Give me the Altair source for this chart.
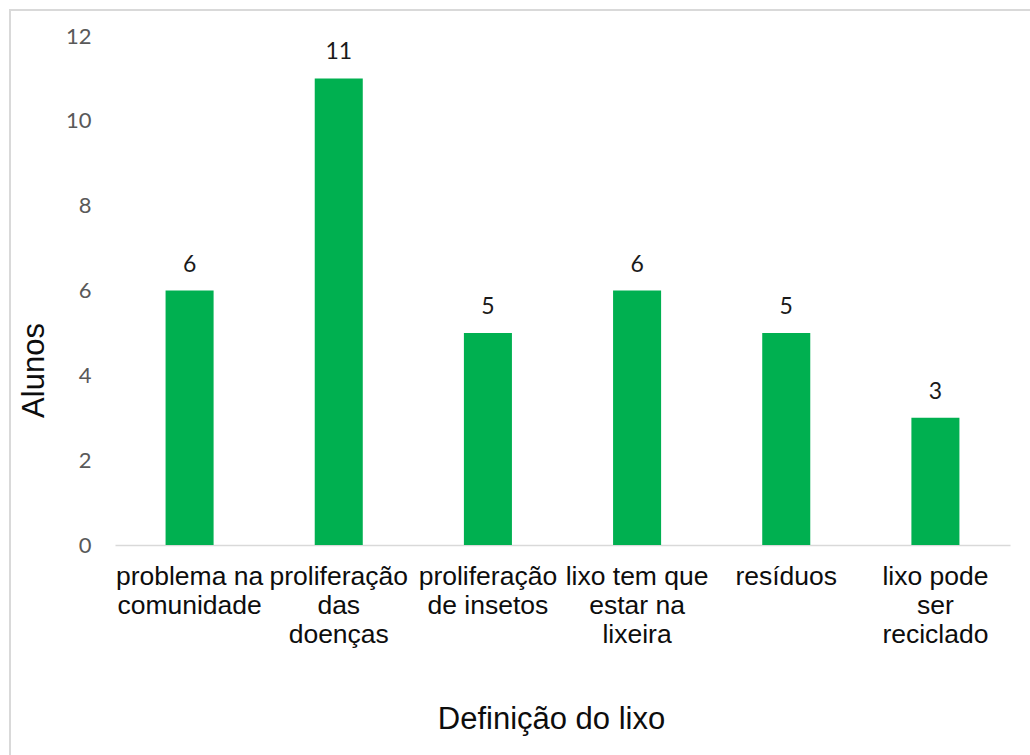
import altair as alt
import pandas as pd

# Answers given by students (categories wrap onto lines at "|")
categories = [
    "problema na|comunidade",
    "proliferação|das|doenças",
    "proliferação|de insetos",
    "lixo tem que|estar na|lixeira",
    "resíduos",
    "lixo pode|ser|reciclado",
]
alunos = [6, 11, 5, 6, 5, 3]
y_ticks = [0, 2, 4, 6, 8, 10, 12]

df = pd.DataFrame({"categoria": categories, "alunos": alunos})

GREEN = "#00B050"
TICK_FONT = "Lato"
LABEL_FONT = "Liberation Sans"

x_enc = alt.X(
    "categoria:N",
    sort=categories,
    scale=alt.Scale(paddingInner=0.678, paddingOuter=0.339),
    axis=alt.Axis(
        title="Definição do lixo",
        labelAngle=0,
        labelExpr="split(datum.label, '|')",
        labelFont=LABEL_FONT,
        labelFontSize=26.5,
        labelColor="#0d0d0d",
        labelLineHeight=29,
        labelPadding=18,
        labelLimit=200,
        ticks=False,
        domain=True,
        domainColor="#d9d9d9",
        domainWidth=1.5,
        grid=False,
        titleFont=LABEL_FONT,
        titleFontSize=31,
        titleFontWeight="normal",
        titleColor="#0d0d0d",
        titleX=436,
        titleY=183,
        titleAlign="center",
        titleBaseline="alphabetic",
    ),
)

y_enc = alt.Y(
    "alunos:Q",
    scale=alt.Scale(domain=[0, 12], nice=False),
    axis=alt.Axis(
        title="Alunos",
        values=y_ticks,
        grid=False,
        domain=False,
        ticks=False,
        labelFont=TICK_FONT,
        labelFontSize=22,
        labelColor="#595959",
        labelPadding=24,
        titleFont=LABEL_FONT,
        titleFontSize=31,
        titleFontWeight="normal",
        titleColor="#0d0d0d",
        titleAngle=270,
        titleX=-81,
        titleY=334,
        titleAlign="center",
        titleBaseline="middle",
    ),
)

bars = alt.Chart(df).mark_bar(color=GREEN).encode(x=x_enc, y=y_enc)

labels = alt.Chart(df).mark_text(
    font=TICK_FONT, fontSize=23, color="#1a1a1a", baseline="alphabetic", dy=-19
).encode(x=alt.X("categoria:N", sort=categories), y="alunos:Q", text="alunos:Q")

# Light frame around the whole chart
frame = alt.Chart(df).mark_rect(
    fill=None, stroke="#d9d9d9", strokeWidth=2
).encode(
    x=alt.value(-105), x2=alt.value(1040), y=alt.value(-26), y2=alt.value(800)
)

chart = (
    alt.layer(frame, bars, labels)
    .properties(
        width=895,
        height=509,
        autosize=alt.AutoSizeParams(type="none"),
        padding={"left": 115, "top": 36, "right": 20, "bottom": 210},
        background="white",
    )
    .configure_view(stroke=None)
)

chart.save("out.html", embed_options={"renderer": "svg", "actions": False})
